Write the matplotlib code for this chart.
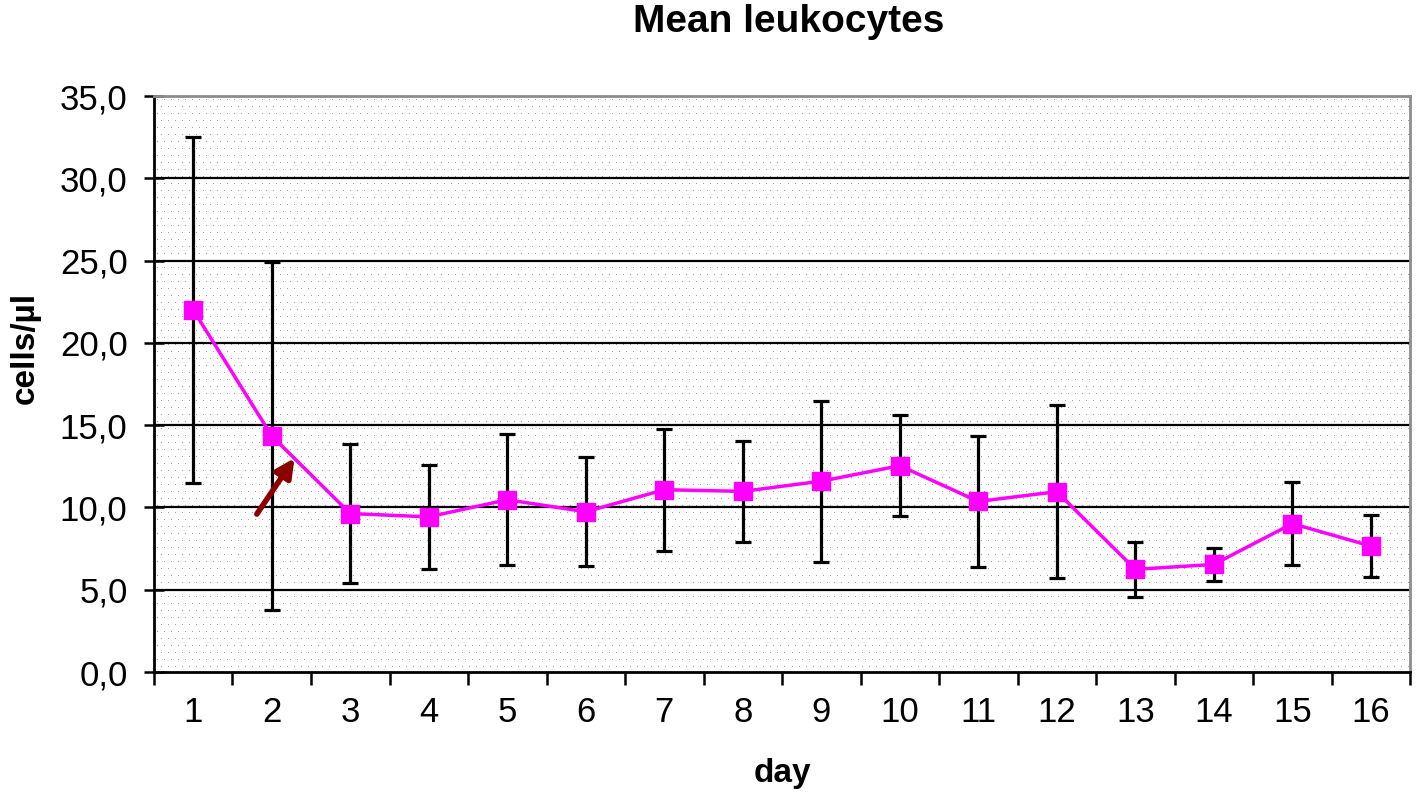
import matplotlib
matplotlib.use('Agg')
import matplotlib.pyplot as plt
import numpy as np
from matplotlib.ticker import FuncFormatter, FixedLocator

plt.rcParams['font.family'] = ['Liberation Sans', 'DejaVu Sans']

days = np.arange(1, 17)
mean_leuko = [22.0, 14.35, 9.63, 9.43, 10.47, 9.74, 11.08, 10.98,
              11.6, 12.54, 10.37, 10.96, 6.24, 6.54, 9.02, 7.66]
sd_leuko = [10.5, 10.56, 4.23, 3.14, 3.97, 3.3, 3.7, 3.08,
            4.89, 3.08, 3.97, 5.25, 1.67, 1.0, 2.52, 1.88]

fig = plt.figure(figsize=(14.18, 8.01), dpi=100)
ax = fig.add_axes([0.1086, 0.161, 0.8858, 0.719])

# dotted background like the old excel plot area
h, w = 576, 1256
bg = np.ones((h, w))
for r in range(3, h, 7):
    off = 3 if (r // 7) % 2 == 0 else 0
    bg[r, off::7] = 0.62
ax.imshow(bg, cmap='gray', vmin=0, vmax=1, extent=(0, 1, 0, 1),
          transform=ax.transAxes, aspect='auto', interpolation='nearest', zorder=0)

# gridlines
for yv in range(5, 35, 5):
    ax.axhline(yv, color='black', lw=1.6, zorder=1)

ax.errorbar(days, mean_leuko, yerr=sd_leuko, fmt='none', ecolor='black',
            elinewidth=2.3, capsize=5.6, capthick=2.3, zorder=3)
ax.plot(days, mean_leuko, color='#ff00ff', lw=2.5, marker='s', markersize=12.5,
        markerfacecolor='#ff00ff', markeredgecolor='#ff00ff', zorder=4)

ax.annotate('', xy=(2.29, 13.0), xytext=(1.81, 9.6),
            arrowprops=dict(arrowstyle='-|>', color='#8b0000', lw=4,
                            mutation_scale=28, shrinkA=0, shrinkB=0), zorder=5)

ax.set_xlim(0.5, 16.5)
ax.set_ylim(0, 35)
ax.set_yticks(np.arange(0, 36, 5))
ax.yaxis.set_major_formatter(FuncFormatter(lambda v, p: f'{v:.1f}'.replace('.', ',')))

ax.set_xticks(days)
ax.set_xticklabels([str(d) for d in days])
ax.xaxis.set_minor_locator(FixedLocator(np.arange(0.5, 17, 1)))
ax.tick_params(axis='x', which='major', length=0, labelsize=25, pad=17)
ax.tick_params(axis='x', which='minor', length=9, width=1.8, direction='out')
ax.tick_params(axis='y', which='major', length=14, width=1.8, direction='inout',
               labelsize=25, pad=12)

for s in ['left', 'bottom']:
    ax.spines[s].set_linewidth(2)
    ax.spines[s].set_color('black')
for s in ['top', 'right']:
    ax.spines[s].set_linewidth(2)
    ax.spines[s].set_color('#8c8c8c')

ax.set_title('Mean leukocytes', fontsize=28, fontweight='bold', pad=46, x=0.505)
ax.set_xlabel('day', fontsize=24, fontweight='bold')
ax.xaxis.set_label_coords(0.5, -0.15)
ax.set_ylabel('cells/µl', fontsize=24, fontweight='bold')
ax.yaxis.set_label_coords(-0.09, 0.5625)

fig.savefig('out.png', dpi=100)
